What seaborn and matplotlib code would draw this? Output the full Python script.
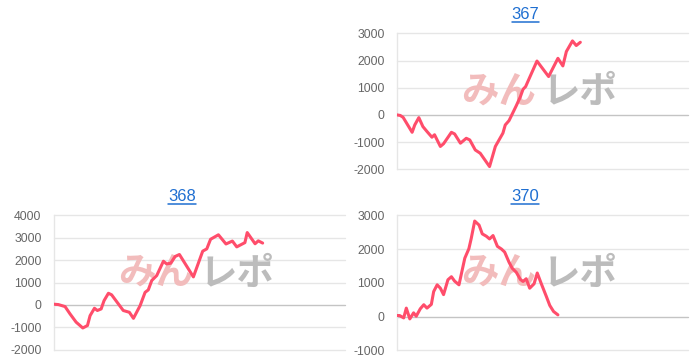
import numpy as np
import pandas as pd
import seaborn as sns
import matplotlib.pyplot as plt
from matplotlib.lines import Line2D

# ---------------- data ----------------
titles = ["367", "368", "370"]

x367 = [0.0, 1.1, 2.1, 5.2, 6.1, 7.5, 8.9, 10.3, 12.0, 12.9, 14.9, 16.0, 18.7, 19.8,
        21.8, 23.8, 25.0, 26.9, 28.6, 31.8, 33.8, 36.4, 37.2, 38.5, 41.0, 42.4, 43.3,
        44.2, 45.6, 48.1, 52.1, 55.3, 57.0, 58.2, 60.3, 61.6, 63.0]
y367 = [0, -20, -90, -640, -370, -100, -430, -610, -820, -730, -1160, -1060, -640, -700,
        -1040, -860, -920, -1290, -1410, -1900, -1160, -670, -370, -210, 340, 670, 940,
        1040, 1380, 1980, 1410, 2080, 1800, 2330, 2720, 2550, 2670]

x368 = [0.0, 1.5, 3.8, 5.5, 7.6, 9.9, 11.5, 12.4, 13.9, 14.9, 16.2, 17.2, 18.7, 19.8,
        23.8, 25.9, 27.3, 29.6, 31.3, 32.4, 33.6, 35.3, 37.6, 38.7, 40.1, 41.6, 43.1,
        47.9, 51.1, 52.5, 53.8, 56.5, 59.1, 61.3, 62.8, 65.6, 66.4, 69.1, 70.2, 71.7]
y368 = [30, 15, -75, -400, -770, -1030, -920, -480, -150, -250, -180, 190, 520, 450,
        -250, -330, -600, -30, 560, 670, 1090, 1310, 1950, 1830, 1860, 2160, 2250,
        1250, 2400, 2500, 2930, 3130, 2720, 2850, 2590, 2780, 3230, 2730, 2860, 2760]

x370 = [0.0, 0.9, 2.3, 3.2, 4.4, 5.7, 6.6, 8.0, 9.2, 10.3, 11.8, 12.6, 13.8, 14.9,
        16.0, 17.5, 18.7, 19.8, 21.3, 23.3, 24.7, 25.5, 26.7, 28.2, 29.3, 30.7, 31.8,
        33.0, 34.5, 35.9, 37.0, 38.5, 39.6, 41.0, 42.4, 43.3, 44.4, 45.6, 47.1, 48.2,
        49.6, 51.3, 52.5, 53.8, 55.3]
y370 = [30, 30, -40, 250, -70, 110, 10, 230, 350, 250, 360, 740, 940, 840, 650, 1090,
        1180, 1050, 940, 1730, 2010, 2310, 2830, 2710, 2450, 2380, 2300, 2400, 2080,
        2000, 1910, 1610, 1430, 1310, 1100, 1040, 1120, 840, 970, 1290, 970, 600, 330,
        150, 50]

ylim367 = [-2000, 3000]
ylim368 = [-2000, 4000]
ylim370 = [-1000, 3000]
watermark_left = "みん"
watermark_right = "レポ"

# ---------------- style ----------------
sns.set_theme(style="white")
plt.rcParams['font.family'] = ['Liberation Sans', 'DejaVu Sans']
plt.rcParams['axes.unicode_minus'] = False

W, H = 700, 364
fig = plt.figure(figsize=(7.0, 3.64), dpi=100)

LINE = "#ff4d6b"
GRID = "#e6e6e6"
ZERO = "#c4c4c4"
TICKTXT = "#666666"
TITLE = "#1f6fd1"


def px_axes(left, top, right, bottom):
    return fig.add_axes([left / W, 1 - bottom / H, (right - left) / W, (bottom - top) / H])


def draw(ax, xs, ys, ylim):
    ax.set_axisbelow(True)
    df = pd.DataFrame({"x": xs, "y": ys})
    ax.text(0.35, 0.57, watermark_left, transform=ax.transAxes, fontsize=27,
            fontweight="bold", color="#f2bcbc", ha="center", va="center",
            family=["Noto Sans CJK JP"], zorder=1)
    ax.text(0.63, 0.57, watermark_right, transform=ax.transAxes, fontsize=27,
            fontweight="bold", color="#bcbcbc", ha="center", va="center",
            family=["Noto Sans CJK JP"], zorder=1)
    sns.lineplot(data=df, x="x", y="y", ax=ax, color=LINE, lw=2.2, sort=False,
                 estimator=None, zorder=3)
    for l in ax.get_lines():
        l.set_solid_joinstyle("round")
        l.set_solid_capstyle("round")
    ax.set_xlim(0, 100)
    ax.set_ylim(*ylim)
    ax.set_yticks(np.arange(ylim[0], ylim[1] + 1, 1000))
    ax.set_xticks([])
    ax.set_xlabel("")
    ax.set_ylabel("")
    ax.grid(axis="y", color=GRID, lw=1.0)
    for gl, t in zip(ax.yaxis.get_gridlines(), ax.get_yticks()):
        gl.set_clip_on(False)
        if t == 0:
            gl.set_color(ZERO)
    for s in ["top", "right", "bottom"]:
        ax.spines[s].set_visible(False)
    ax.spines["left"].set_color(GRID)
    ax.spines["left"].set_linewidth(1.0)
    ax.tick_params(axis="y", length=7.5, width=1.0, color=GRID, pad=1.5,
                   labelsize=8.8, labelcolor=TICKTXT)
    ax.tick_params(axis="x", length=0)
    ax.set_facecolor("white")


ax1 = px_axes(397, 33.3, 688, 169.3)
draw(ax1, x367, y367, ylim367)
ax2 = px_axes(54, 215.3, 345, 349.7)
draw(ax2, x368, y368, ylim368)
ax3 = px_axes(397, 215.3, 688, 350.3)
draw(ax3, x370, y370, ylim370)

title_texts = []
for t, cx, base in [(titles[0], 525.5, 19.0), (titles[1], 182.0, 201.0), (titles[2], 525.0, 201.0)]:
    tt = fig.text(cx / W, 1 - base / H, t, ha="center", va="baseline", fontsize=12,
                  color=TITLE)
    title_texts.append((tt, base))

fig.canvas.draw()
r = fig.canvas.get_renderer()
for tt, base in title_texts:
    bb = tt.get_window_extent(r)
    yy = 1 - (base + 2.8) / H
    fig.add_artist(Line2D([bb.x0 / W, bb.x1 / W], [yy, yy], transform=fig.transFigure,
                          color=TITLE, lw=1.1))

fig.savefig("out.png", dpi=100)
